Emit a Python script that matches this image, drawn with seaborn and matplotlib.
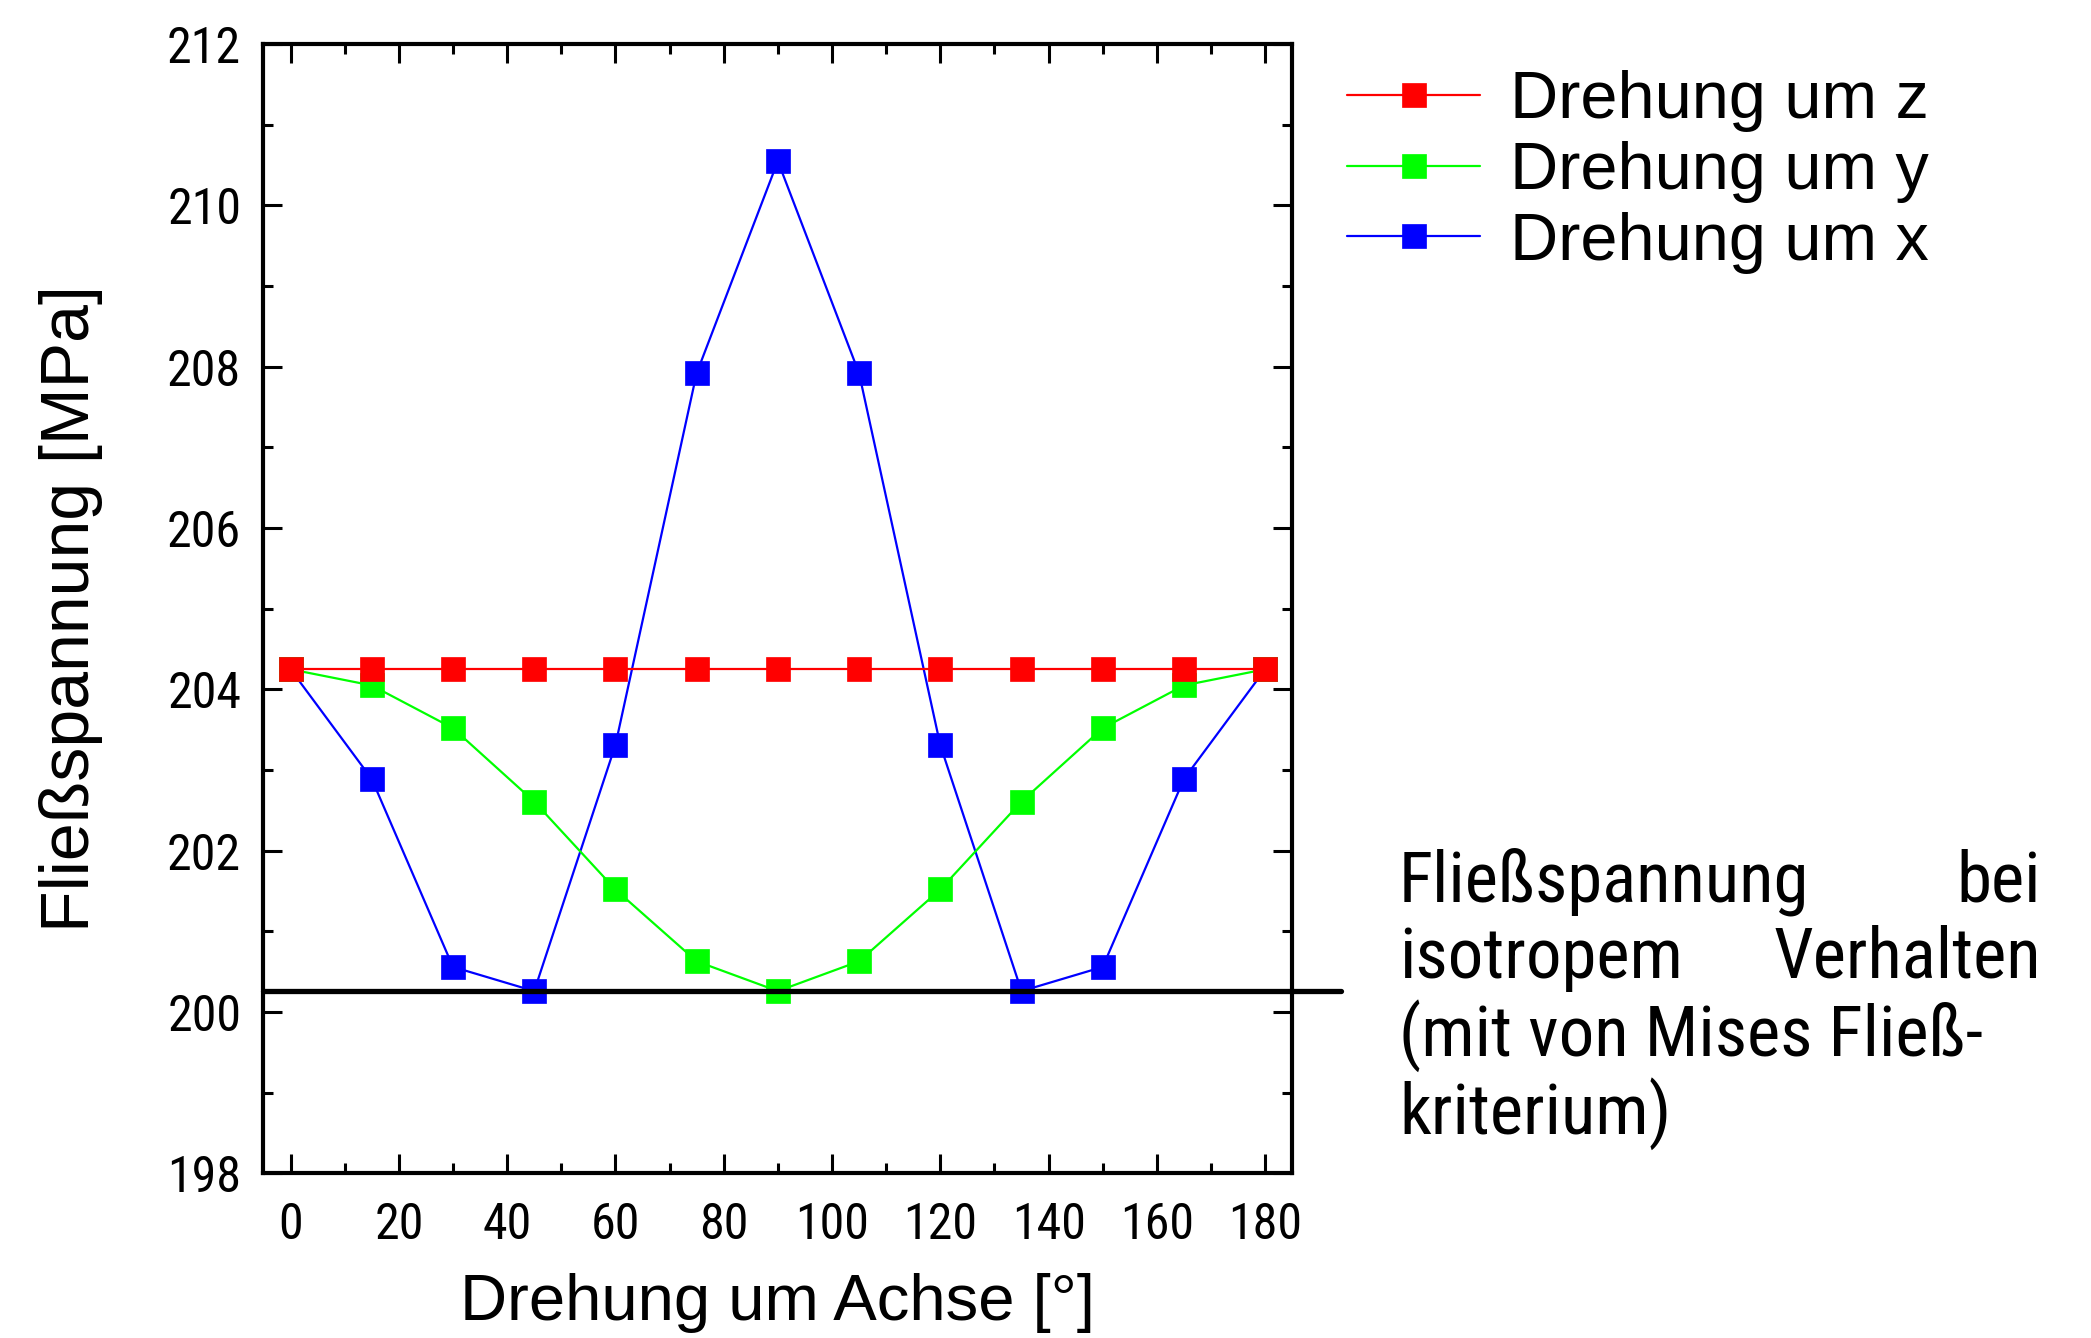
# Fließspannung vs. Drehung um Achse
import pandas as pd
import matplotlib.pyplot as plt
import seaborn as sns
from matplotlib.ticker import MultipleLocator

# Data
winkel = [0, 15, 30, 45, 60, 75, 90, 105, 120, 135, 150, 165, 180]
dreh_z = [204.25] * 13
dreh_y = [204.25, 204.05, 203.52, 202.61, 201.52, 200.63, 200.26,
          200.63, 201.52, 202.61, 203.52, 204.05, 204.25]
dreh_x = [204.25, 202.89, 200.56, 200.26, 203.31, 207.92, 210.55,
          207.92, 203.31, 200.26, 200.56, 202.89, 204.25]
isotrop = 200.26

serien = ["Drehung um z", "Drehung um y", "Drehung um x"]
farben = ["#ff0000", "#00ff00", "#0000ff"]

df = pd.DataFrame({"Winkel": winkel * 3,
                   "Spannung": dreh_z + dreh_y + dreh_x,
                   "Serie": [s for s in serien for _ in winkel]})

sns.set_style("ticks")
plt.rcParams['font.family'] = ['Liberation Sans', 'DejaVu Sans']
plt.rcParams['text.color'] = 'black'
plt.rcParams['axes.labelcolor'] = 'black'
plt.rcParams['xtick.color'] = 'black'
plt.rcParams['ytick.color'] = 'black'
narrow = ['Liberation Sans Narrow', 'Roboto Condensed', 'Liberation Sans', 'DejaVu Sans']

fig = plt.figure(figsize=(20.91, 13.38), dpi=100)
ax = fig.add_axes([0.126, 0.123, 0.492, 0.844])

# draw x first so red ends up on top
for serie, farbe in reversed(list(zip(serien, farben))):
    sns.lineplot(data=df[df["Serie"] == serie], x="Winkel", y="Spannung",
                 color=farbe, marker="s", markersize=17, linewidth=1.6,
                 markeredgecolor=farbe, markeredgewidth=0.5, label=serie, ax=ax)

# isotropic reference line, runs past the right spine
ax.plot([-5, 194], [isotrop, isotrop], color="black", linewidth=3.8,
        clip_on=False, zorder=5)

ax.set_xlim(-5, 185)
ax.set_ylim(198, 212)
ax.xaxis.set_major_locator(MultipleLocator(20))
ax.xaxis.set_minor_locator(MultipleLocator(10))
ax.yaxis.set_major_locator(MultipleLocator(2))
ax.yaxis.set_minor_locator(MultipleLocator(1))
ax.tick_params(which="both", direction="in", top=True, right=True, width=2.2)
ax.tick_params(which="major", length=14)
ax.tick_params(which="minor", length=7)
ax.tick_params(axis="x", pad=20)
ax.tick_params(axis="y", pad=16)
for lab in ax.get_xticklabels() + ax.get_yticklabels():
    lab.set_family(narrow)
    lab.set_fontsize(36)
for s in ax.spines.values():
    s.set_linewidth(3)
    s.set_color("black")

ax.set_xlabel("Drehung um Achse [°]", fontsize=47, labelpad=17)
ax.set_ylabel("Fließspannung [MPa]", fontsize=49, labelpad=46)

handles, labels = ax.get_legend_handles_labels()
ax.legend(handles[::-1], labels[::-1], loc="upper left",
          bbox_to_anchor=(1.008, 1.018), frameon=False, fontsize=48,
          handlelength=2.0, handletextpad=0.45, labelspacing=0.13,
          borderaxespad=0.3)

# justified note text on the right
tx0, tx1 = 0.669, 0.976
zeilen_y = [0.341, 0.284, 0.226, 0.168]
kw = dict(fontsize=51, family=narrow, va="center")
fig.text(tx0, zeilen_y[0], "Fließspannung", ha="left", **kw)
fig.text(tx1, zeilen_y[0], "bei", ha="right", **kw)
fig.text(tx0, zeilen_y[1], "isotropem", ha="left", **kw)
fig.text(tx1, zeilen_y[1], "Verhalten", ha="right", **kw)
fig.text(tx0, zeilen_y[2], "(mit von Mises Fließ-", ha="left", **kw)
fig.text(tx0, zeilen_y[3], "kriterium)", ha="left", **kw)

fig.savefig("out.png", dpi=100)
